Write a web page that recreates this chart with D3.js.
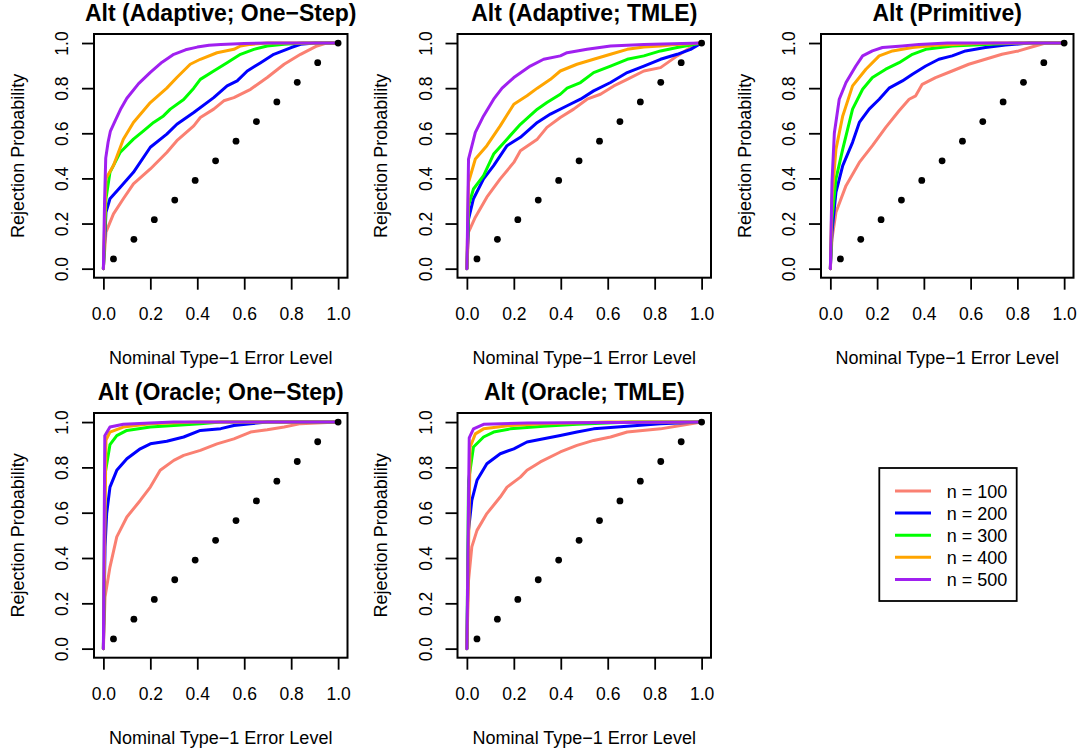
<!DOCTYPE html>
<html>
<head>
<meta charset="utf-8">
<script src="https://cdn.jsdelivr.net/npm/d3@7"></script>
<style>
  html, body { margin: 0; padding: 0; background: #fff; }
  svg { display: block; font-family: "Liberation Sans", Arial, Helvetica, sans-serif; }
</style>
</head>
<body>
<svg id="chart" width="1081" height="750"></svg>
<script>
// ---------------- DATA ----------------
const seriesLabels = ["n = 100", "n = 200", "n = 300", "n = 400", "n = 500"];
const seriesColors = ["#FA8072", "#0000FF", "#00FF00", "#FFA500", "#A020F0"];
const panelTitles = ["Alt (Adaptive; One\u2212Step)", "Alt (Adaptive; TMLE)", "Alt (Primitive)",
                     "Alt (Oracle; One\u2212Step)", "Alt (Oracle; TMLE)"];
const xTicks = [0, 0.2, 0.4, 0.6, 0.8, 1.0];
const yTicks = [0, 0.2, 0.4, 0.6, 0.8, 1.0];
const xAxisTitle = "Nominal Type\u22121 Error Level";
const yAxisTitle = "Rejection Probability";
// diagonal reference points (nominal level = rejection prob.)
const refPoints = [0.043, 0.130, 0.217, 0.304, 0.391, 0.478, 0.565, 0.652, 0.739, 0.826, 0.913, 1.0];

// Panel 1: Adaptive; One-Step  [nominal level, rejection probability]
const adOne_n100 = [[0,0],[0.011,0.162],[0.043,0.243],[0.085,0.31],[0.128,0.376],[0.2,0.442],[0.27,0.515],[0.313,0.567],[0.385,0.633],[0.413,0.67],[0.47,0.707],[0.513,0.744],[0.556,0.758],[0.627,0.795],[0.698,0.847],[0.77,0.906],[0.84,0.95],[0.91,0.987],[0.95,1],[1,1]];
const adOne_n200 = [[0,0],[0.011,0.25],[0.028,0.31],[0.071,0.36],[0.128,0.427],[0.2,0.538],[0.27,0.596],[0.313,0.64],[0.385,0.692],[0.47,0.758],[0.527,0.81],[0.57,0.832],[0.613,0.876],[0.67,0.913],[0.726,0.95],[0.8,0.98],[0.84,0.994],[0.9,1],[1,1]];
const adOne_n300 = [[0,0],[0.011,0.31],[0.028,0.427],[0.071,0.515],[0.128,0.574],[0.171,0.611],[0.214,0.648],[0.256,0.677],[0.285,0.707],[0.342,0.75],[0.385,0.8],[0.413,0.839],[0.47,0.876],[0.527,0.913],[0.584,0.95],[0.641,0.972],[0.698,0.987],[0.77,0.994],[0.85,1],[1,1]];
const adOne_n400 = [[0,0],[0.011,0.40],[0.043,0.457],[0.085,0.574],[0.128,0.648],[0.2,0.736],[0.27,0.80],[0.313,0.847],[0.37,0.906],[0.413,0.928],[0.484,0.957],[0.556,0.972],[0.584,0.987],[0.627,0.994],[0.7,1],[1,1]];
const adOne_n500 = [[0,0],[0.005,0.3],[0.01,0.49],[0.02,0.56],[0.03,0.61],[0.05,0.655],[0.075,0.71],[0.1,0.755],[0.15,0.82],[0.2,0.87],[0.25,0.915],[0.3,0.95],[0.35,0.97],[0.4,0.982],[0.45,0.99],[0.5,0.994],[0.6,0.998],[0.7,1],[1,1]];

// Panel 2: Adaptive; TMLE
const adTmle_n100 = [[0,0],[0.007,0.162],[0.036,0.228],[0.085,0.317],[0.142,0.398],[0.2,0.471],[0.228,0.523],[0.3,0.574],[0.341,0.626],[0.398,0.67],[0.455,0.707],[0.512,0.751],[0.569,0.773],[0.626,0.81],[0.683,0.839],[0.754,0.876],[0.825,0.891],[0.896,0.943],[0.953,0.98],[1,1]];
const adTmle_n200 = [[0,0],[0.007,0.22],[0.028,0.31],[0.071,0.398],[0.114,0.457],[0.171,0.545],[0.228,0.582],[0.3,0.648],[0.356,0.685],[0.427,0.722],[0.484,0.751],[0.54,0.788],[0.612,0.825],[0.683,0.869],[0.754,0.898],[0.825,0.928],[0.896,0.95],[0.953,0.972],[1,1]];
const adTmle_n300 = [[0,0],[0.007,0.28],[0.028,0.353],[0.071,0.412],[0.114,0.508],[0.171,0.574],[0.228,0.64],[0.3,0.707],[0.341,0.736],[0.398,0.773],[0.427,0.80],[0.484,0.825],[0.54,0.869],[0.612,0.898],[0.683,0.928],[0.754,0.943],[0.825,0.965],[0.896,0.98],[1,1]];
const adTmle_n400 = [[0,0],[0.007,0.383],[0.036,0.486],[0.085,0.545],[0.142,0.633],[0.2,0.729],[0.256,0.766],[0.3,0.80],[0.356,0.839],[0.398,0.876],[0.469,0.906],[0.54,0.928],[0.612,0.95],[0.683,0.972],[0.754,0.982],[0.825,0.987],[0.896,0.994],[1,1]];
const adTmle_n500 = [[0,0],[0.007,0.486],[0.036,0.604],[0.071,0.677],[0.114,0.751],[0.15,0.80],[0.2,0.847],[0.27,0.898],[0.327,0.928],[0.398,0.943],[0.427,0.957],[0.512,0.972],[0.612,0.987],[0.754,0.994],[1,1]];

// Panel 3: Primitive
const prim_n100 = [[0,0],[0.007,0.133],[0.024,0.25],[0.067,0.368],[0.124,0.471],[0.18,0.545],[0.237,0.626],[0.294,0.70],[0.337,0.751],[0.365,0.766],[0.393,0.817],[0.45,0.847],[0.521,0.876],[0.592,0.906],[0.663,0.928],[0.734,0.95],[0.805,0.965],[0.876,0.987],[0.92,1],[1,1]];
const prim_n200 = [[0,0],[0.007,0.162],[0.024,0.339],[0.053,0.457],[0.095,0.56],[0.124,0.648],[0.166,0.707],[0.209,0.751],[0.251,0.80],[0.308,0.832],[0.351,0.862],[0.408,0.898],[0.464,0.928],[0.521,0.943],[0.578,0.965],[0.663,0.98],[0.749,0.991],[0.85,1],[1,1]];
const prim_n300 = [[0,0],[0.007,0.22],[0.024,0.398],[0.053,0.53],[0.095,0.707],[0.138,0.795],[0.18,0.847],[0.237,0.884],[0.294,0.913],[0.351,0.95],[0.408,0.972],[0.521,0.987],[0.663,0.994],[0.8,1],[1,1]];
const prim_n400 = [[0,0],[0.007,0.31],[0.024,0.53],[0.053,0.677],[0.095,0.81],[0.152,0.884],[0.209,0.943],[0.266,0.965],[0.351,0.98],[0.45,0.99],[0.6,0.997],[0.7,1],[1,1]];
const prim_n500 = [[0,0],[0.007,0.383],[0.017,0.6],[0.038,0.751],[0.067,0.825],[0.109,0.898],[0.138,0.943],[0.18,0.965],[0.223,0.98],[0.308,0.987],[0.379,0.994],[0.5,1],[1,1]];

// Panel 4: Oracle; One-Step
const orOne_n100 = [[0,0],[0.007,0.228],[0.028,0.36],[0.057,0.493],[0.1,0.581],[0.157,0.654],[0.2,0.713],[0.242,0.787],[0.3,0.831],[0.342,0.853],[0.413,0.875],[0.484,0.904],[0.556,0.926],[0.627,0.956],[0.698,0.966],[0.77,0.978],[0.84,0.993],[1,1]];
const orOne_n200 = [[0,0],[0.007,0.449],[0.014,0.596],[0.028,0.713],[0.057,0.787],[0.1,0.838],[0.157,0.882],[0.2,0.904],[0.27,0.915],[0.342,0.934],[0.413,0.963],[0.5,0.971],[0.556,0.985],[0.627,0.993],[0.7,1],[1,1]];
const orOne_n300 = [[0,0],[0.007,0.77],[0.028,0.90],[0.057,0.94],[0.1,0.963],[0.2,0.978],[0.3,0.985],[0.413,0.993],[0.5,1],[1,1]];
const orOne_n400 = [[0,0],[0.011,0.92],[0.028,0.956],[0.085,0.978],[0.2,0.993],[0.4,1],[1,1]];
const orOne_n500 = [[0,0],[0.006,0.94],[0.028,0.978],[0.085,0.99],[0.2,0.996],[0.3,1],[1,1]];

// Panel 5: Oracle; TMLE
const orTmle_n100 = [[0,0],[0.007,0.30],[0.021,0.449],[0.043,0.522],[0.085,0.596],[0.142,0.669],[0.171,0.713],[0.228,0.757],[0.256,0.787],[0.313,0.824],[0.398,0.868],[0.469,0.897],[0.54,0.919],[0.612,0.934],[0.683,0.956],[0.825,0.97],[0.91,0.985],[1,1]];
const orTmle_n200 = [[0,0],[0.007,0.522],[0.021,0.654],[0.043,0.743],[0.085,0.816],[0.142,0.86],[0.2,0.882],[0.256,0.912],[0.327,0.926],[0.398,0.941],[0.469,0.956],[0.54,0.97],[0.683,0.981],[0.825,0.993],[1,1]];
const orTmle_n300 = [[0,0],[0.007,0.74],[0.028,0.89],[0.071,0.934],[0.114,0.956],[0.185,0.97],[0.327,0.981],[0.469,0.99],[0.7,1],[1,1]];
const orTmle_n400 = [[0,0],[0.014,0.89],[0.036,0.948],[0.071,0.97],[0.185,0.985],[0.327,0.993],[0.6,1],[1,1]];
const orTmle_n500 = [[0,0],[0.01,0.93],[0.028,0.97],[0.071,0.99],[0.256,0.996],[1,1]];

const panelSeries = [
  [adOne_n100, adOne_n200, adOne_n300, adOne_n400, adOne_n500],
  [adTmle_n100, adTmle_n200, adTmle_n300, adTmle_n400, adTmle_n500],
  [prim_n100, prim_n200, prim_n300, prim_n400, prim_n500],
  [orOne_n100, orOne_n200, orOne_n300, orOne_n400, orOne_n500],
  [orTmle_n100, orTmle_n200, orTmle_n300, orTmle_n400, orTmle_n500]
];

// ---------------- LAYOUT ----------------
const colLeft = [94, 457.5, 821];
const colRight = [347.5, 711, 1073.5];
const rowTop = [34, 413];
const rowBottom = [277.7, 657.7];

const svg = d3.select("#chart");
svg.append("rect").attr("width", 1081).attr("height", 750).attr("fill", "#fff");

const fmt = d3.format(".1f");

panelSeries.forEach((series, p) => {
  const r = Math.floor(p / 3), c = p % 3;
  const L = colLeft[c], R = colRight[c], T = rowTop[r], B = rowBottom[r];
  const x = d3.scaleLinear().domain([-0.04, 1.04]).range([L, R]);
  const y = d3.scaleLinear().domain([-0.04, 1.04]).range([B, T]);
  const g = svg.append("g");

  const clipId = "clip" + p;
  g.append("clipPath").attr("id", clipId)
    .append("rect").attr("x", L).attr("y", T).attr("width", R - L).attr("height", B - T);

  // curves
  const line = d3.line().x(d => x(d[0])).y(d => y(d[1]));
  const lg = g.append("g").attr("clip-path", `url(#${clipId})`);
  series.forEach((s, i) => {
    lg.append("path").datum(s).attr("d", line)
      .attr("fill", "none").attr("stroke", seriesColors[i])
      .attr("stroke-width", 3).attr("stroke-linejoin", "round").attr("stroke-linecap", "round");
  });
  // reference points
  lg.selectAll("circle").data(refPoints).join("circle")
    .attr("cx", d => x(d)).attr("cy", d => y(d)).attr("r", 3.4).attr("fill", "#000");

  // box
  g.append("rect").attr("x", L).attr("y", T).attr("width", R - L).attr("height", B - T)
    .attr("fill", "none").attr("stroke", "#000").attr("stroke-width", 2);

  // x axis
  const xa = g.append("g").attr("transform", `translate(0,${B})`)
    .call(d3.axisBottom(x).tickValues(xTicks).tickSize(12).tickFormat(fmt));
  xa.select(".domain").remove();
  xa.selectAll(".tick line").attr("stroke", "#000").attr("stroke-width", 1.8);
  xa.selectAll(".tick text").attr("y", 42.5).attr("dy", 0)
    .attr("font-size", 17.5).attr("fill", "#000")
    .attr("font-family", "'Liberation Sans', Arial, sans-serif");

  // y axis
  const ya = g.append("g").attr("transform", `translate(${L},0)`)
    .call(d3.axisLeft(y).tickValues(yTicks).tickSize(12).tickFormat(fmt));
  ya.select(".domain").remove();
  ya.selectAll(".tick line").attr("stroke", "#000").attr("stroke-width", 1.8);
  ya.selectAll(".tick text")
    .attr("transform", "rotate(-90)")
    .attr("x", 0).attr("y", -26).attr("dy", 0)
    .attr("text-anchor", "middle")
    .attr("font-size", 17.5).attr("fill", "#000")
    .attr("font-family", "'Liberation Sans', Arial, sans-serif");

  // titles
  g.append("text").attr("x", (L + R) / 2).attr("y", T - 13.3)
    .attr("text-anchor", "middle").attr("font-weight", "bold").attr("font-size", 23)
    .text(panelTitles[p]);
  g.append("text").attr("x", (L + R) / 2).attr("y", B + 86)
    .attr("text-anchor", "middle").attr("font-size", 18).text(xAxisTitle);
  g.append("text")
    .attr("transform", `translate(${L - 70.5},${(T + B) / 2}) rotate(-90)`)
    .attr("text-anchor", "middle").attr("font-size", 18).text(yAxisTitle);
});

// ---------------- LEGEND ----------------
const lgX = 879.3, lgY = 468, lgW = 137.4, lgH = 133;
const leg = svg.append("g");
leg.append("rect").attr("x", lgX).attr("y", lgY).attr("width", lgW).attr("height", lgH)
  .attr("fill", "#fff").attr("stroke", "#000").attr("stroke-width", 1.8);
seriesLabels.forEach((lab, i) => {
  const yy = 491 + i * 22.1;
  leg.append("line").attr("x1", 895).attr("x2", 931).attr("y1", yy).attr("y2", yy)
    .attr("stroke", seriesColors[i]).attr("stroke-width", 3);
  leg.append("text").attr("x", 946.7).attr("y", yy + 6.5).attr("font-size", 18).text(lab);
});
</script>
</body>
</html>
